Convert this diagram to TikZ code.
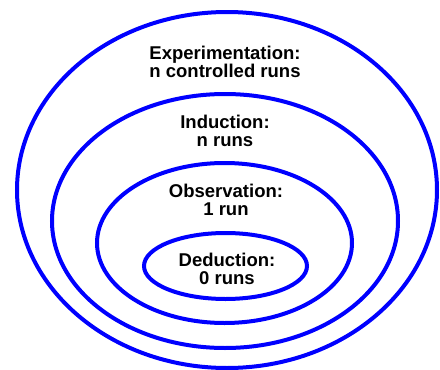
\documentclass[tikz,border=0pt]{standalone}
\usepackage{fontspec}
\setmainfont{Liberation Sans}
\begin{document}
\begin{tikzpicture}[x=1pt,y=-1pt,
  ring/.style={draw=blue, line width=4pt},
  lbl/.style={align=center, font=\bfseries\fontsize{18.5}{18.5}\selectfont, inner sep=0pt}]
\useasboundingbox (0,0) rectangle (440,370);
\draw[ring] (227,190) ellipse [x radius=210, y radius=178];
\draw[ring] (225,221) ellipse [x radius=173, y radius=127];
\draw[ring] (224.5,243) ellipse [x radius=127.5, y radius=80];
\draw[ring] (225.5,266) ellipse [x radius=81.5, y radius=33];
\node[lbl] (exp) at (225,62) {Experimentation:\\n controlled runs};
\node[lbl] (ind) at (225,131) {Induction:\\n runs};
\node[lbl] (obs) at (226,200) {Observation:\\1 run};
\node[lbl] (ded) at (227,269) {Deduction:\\0 runs};
\end{tikzpicture}
\end{document}
